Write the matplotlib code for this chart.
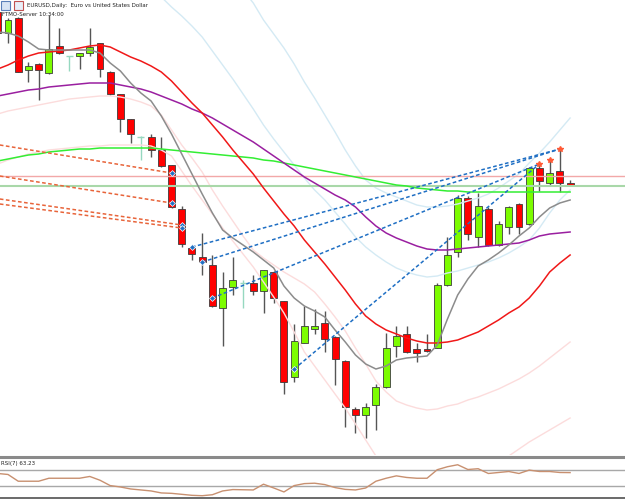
import matplotlib
matplotlib.use("Agg")
import matplotlib.pyplot as plt
import numpy as np
from matplotlib.patches import Rectangle
from matplotlib.lines import Line2D

W, H = 625, 499
X0, DX = 8.0, 10.22

# ---------------- data (chart levels; smaller = higher) -------
idx = list(range(-1, 56))
opens = [12, 33, 18, 70, 64, 73, 46, 56, 56, 53, 43, 72, 94, 119, 137, 137, 150, 165, 209, 248, 257,
         265, 308, 287, 283, 283, 291, 272, 301, 377, 343, 329, 323, 337, 361, 409, 415, 405, 387, 346,
         334, 349, 349, 348, 285, 252, 198, 237, 209, 245, 227, 204, 224, 168, 183, 171, 183]
closes = [33, 20, 72, 66, 70, 49, 53, 56, 53, 47, 69, 94, 119, 134, 137, 150, 166, 207, 244, 254, 262,
          306, 288, 280, 283, 291, 270, 298, 382, 341, 326, 326, 339, 359, 407, 415, 407, 387, 348, 336,
          352, 353, 351, 285, 255, 198, 234, 206, 245, 224, 207, 227, 168, 181, 173, 183, 186]
highs = [5, 18, 17, 62, 63, 15, 28, 56, 53, 28, 43, 71, 94, 119, 136, 134, 137, 165, 206, 247, 233,
         255, 272, 257, 280, 275, 270, 271, 301, 324, 306, 309, 311, 336, 360, 407, 403, 384, 333, 326,
         326, 343, 334, 283, 237, 195, 196, 193, 207, 221, 206, 203, 167, 164, 160, 149, 180]
lows = [36, 43, 72, 82, 100, 74, 54, 71, 69, 56, 77, 95, 132, 143, 160, 157, 167, 208, 247, 260, 275,
        307, 346, 295, 308, 295, 313, 303, 394, 382, 343, 334, 352, 385, 427, 433, 438, 430, 388, 357,
        353, 362, 352, 348, 286, 257, 240, 247, 246, 246, 234, 234, 225, 191, 185, 192, 186]

ma_fast = [32, 33, 36, 42, 49, 50, 50, 50, 50, 50, 53, 63, 71, 83, 93, 101, 116, 134, 154, 174, 194,
           213, 230, 238, 245, 252, 260, 268, 286, 298, 306, 311, 317, 330, 342, 355, 364, 369, 366, 360,
           358, 357, 356, 345, 319, 295, 279, 266, 260, 253, 245, 236, 228, 217, 208, 203, 200]
ma_mid = [69, 65, 60, 56, 53, 52, 51, 50, 48, 46, 45, 47, 52, 57, 61, 66, 72, 81, 92, 103, 113,
          125, 137, 150, 162, 174, 188, 201, 214, 226, 240, 252, 264, 277, 290, 304, 316, 324, 330, 334,
          338, 341, 343, 343, 342, 340, 336, 332, 326, 320, 313, 307, 298, 286, 272, 263, 255]
ma_slow = [96, 94, 92, 90, 89, 87, 86, 85, 84, 83, 83, 83, 85, 87, 89, 92, 96, 100, 104, 109, 113,
           118, 124, 130, 136, 142, 149, 156, 163, 170, 177, 183, 189, 195, 200, 207, 217, 226, 233, 238,
           242, 246, 249, 250, 250, 249, 248, 247, 246, 245, 244, 243, 240, 236, 234, 233, 232]
ma_long = [161, 159, 157, 155, 154, 152, 151, 150, 149, 149, 148, 148, 148, 148, 148, 148, 149, 150, 151,
           152, 153, 154, 155, 156, 157, 158, 160, 161, 163, 165, 167, 169, 171, 173, 175, 177, 179, 181,
           183, 185, 186, 188, 189, 190, 191, 191, 192, 192, 192, 192, 192, 192, 192, 192, 192, 192, 192]

band_idx = list(range(14, 56))
upper_in = [-12, -3, 7, 16, 26, 37, 51, 65, 79, 94, 109, 125, 139, 152, 165, 178, 190, 200, 212, 224,
            237, 247, 255, 262, 268, 272, 275, 277, 276, 273, 271, 268, 265, 262, 258, 253, 247, 240,
            228, 213, 200, 190]
upper_out = [None] * 9 + [-10, 3, 20, 34, 48, 64, 82, 98, 115, 132, 150, 166, 180, 188, 193, 197, 201,
                          205, 207, 207, 206, 204, 201, 198, 194, 188, 181, 174, 163, 153, 142, 130, 118]
lower_in = [114, 111, 109, 107, 105, 103, 101, 99, 98, 97, 96, 96, 97, 99, 102, 106, 115, 130, 145, 158,
            172, 190, 206, 221, 236, 250, 258, 265, 272, 278, 284, 292, 304, 317, 331, 348, 364, 381, 392,
            401, 405, 408, 410, 409, 406, 404, 400, 397, 393, 389, 384, 379, 373, 366, 358, 350, 342]
lower_out = [164, 160, 157, 154, 152, 150, 149, 148, 147, 146, 146, 145, 145, 145, 145, 146, 150, 156, 171,
             186, 200, 214, 228, 241, 254, 267, 282, 297, 313, 332, 352, 366, 380, 394, 408, 424, 440, 456,
             470, 480, 486, 490, 490, 488, 484, 478, 472, 466, 460, 458, 456, 449, 442, 436, 430, 424, 418]

rsi = [61, 58.5, 41.5, 41.5, 41.5, 49, 49, 49, 49, 53.5, 44, 30.5, 27, 22, 19.5, 17, 12, 11, 8.5, 6, 5,
       7.5, 17, 20.5, 20, 19.5, 34, 24.5, 14.5, 30.5, 35.5, 36.5, 33, 25.5, 21, 19.5, 24.5, 41.5, 49, 55,
       51, 49, 49, 70.5, 78, 83, 71, 73, 61, 63.5, 66, 61, 69.5, 66, 66, 63.5, 63.23]
rsi_levels = [70, 30]

h_red_level = 176
h_green_level = 186

orange_lines = [((-0.8, 145), (16, 173)), ((-0.8, 176), (16, 203)),
                ((-0.8, 199), (17, 225)), ((-0.8, 204), (17, 228))]
blue_lines = [((18, 247), (54, 149)), ((19, 262), (54, 149)),
              ((20, 298), (52, 164)), ((28, 369), (52, 164))]
fractal_idx = [52, 53, 54]
fractal_lvl = [164, 160, 149]

title = "EURUSD,Daily:  Euro vs United States Dollar"
server = "FTMO-Server 10:34:00"
rsi_label = "RSI(7) 63.23"

# ---------------- figure -------------------------------------------------------------
fig = plt.figure(figsize=(W / 100, H / 100), dpi=100)
fig.patch.set_facecolor("white")
xlim = ((0 - X0) / DX, (W - X0) / DX)

ax = fig.add_axes([0, 1 - 455 / H, 1, 455 / H])
ax.set_xlim(*xlim)
ax.set_ylim(455, 0)
ax.axis("off")

GREEN = "#7CFC00"
RED = "#FF0000"
DOJI = "#96d8c0"
EDGE = "#3c3c3c"
BW = 0.68

for i, o, c, hi, lo in zip(idx, opens, closes, highs, lows):
    if o == c:
        ax.vlines(i, hi, lo, color=DOJI, lw=1.0, zorder=2)
        ax.hlines(o, i - BW / 2, i + BW / 2, color=DOJI, lw=1.0, zorder=2)
        continue
    col = GREEN if c < o else RED
    ax.vlines(i, hi, lo, color="#555555", lw=1.0, zorder=1)
    top, bot = min(o, c), max(o, c)
    hgt = max(bot - top, 1.5)
    ax.add_patch(Rectangle((i - BW / 2, top), BW, hgt, facecolor=col, edgecolor=EDGE,
                           lw=0.6, zorder=2))

bi = np.array(band_idx)
ax.plot(bi, upper_in, color="#d4eaf4", lw=1.0, zorder=3)
uo = np.array([np.nan if v is None else v for v in upper_out], dtype=float)
ax.plot(bi, uo, color="#d4eaf4", lw=1.0, zorder=3)
ax.plot(idx, lower_in, color="#fcdcdc", lw=1.0, zorder=3)
ax.plot(idx, lower_out, color="#fcdcdc", lw=1.0, zorder=3)

ax.axhline(h_red_level, color="#f2a8a8", lw=1.0, zorder=3)
ax.axhline(h_green_level, color="#a9d8a9", lw=1.5, zorder=3)

ax.plot(idx, ma_long, color="#33ee33", lw=1.1, zorder=4)
ax.plot(idx, ma_slow, color="#9a1fa0", lw=1.1, zorder=4)
ax.plot(idx, ma_mid, color="#f01818", lw=1.1, zorder=4)
ax.plot(idx, ma_fast, color="#8c8c8c", lw=1.1, zorder=4)

DASH = (0, (2.4, 1.6))
for (a, b) in orange_lines:
    ax.plot([a[0], b[0]], [a[1], b[1]], color="#e8643a", lw=1.1, ls=DASH, zorder=5)
    ax.plot(b[0], b[1], marker="D", ms=3.0, mfc="#1f6fc4", mec="white", mew=0.5, zorder=6)
for (a, b) in blue_lines:
    ax.plot([a[0], b[0]], [a[1], b[1]], color="#1f6fc4", lw=1.1, ls=DASH, zorder=5)
    ax.plot(a[0], a[1], marker="D", ms=3.0, mfc="#1f6fc4", mec="white", mew=0.5, zorder=6)
ax.plot(fractal_idx, fractal_lvl, ls="none", marker="*", ms=4.0, color="#ff5a36", zorder=6)

# header icons and text
fig.patches.append(Rectangle((1 / W, 1 - 10 / H), 9 / W, 9 / H, transform=fig.transFigure,
                             facecolor="#d8e4f4", edgecolor="#5a7fb8", lw=0.8))
fig.patches.append(Rectangle((14 / W, 1 - 10 / H), 9 / W, 9 / H, transform=fig.transFigure,
                             facecolor="#e8eef8", edgecolor="#c05050", lw=0.8))
fig.text(27 / W, 1 - 6 / H, title, fontsize=4.0, color="#222222", va="center", ha="left",
         family="DejaVu Sans")
fig.text(2 / W, 1 - 15 / H, server, fontsize=4.0, color="#222222", va="center", ha="left",
         family="DejaVu Sans")

# separator
fig.add_artist(Line2D([0, 1], [1 - 456.5 / H] * 2, transform=fig.transFigure, color="#8a8a8a", lw=2.2))

# RSI panel
ax2 = fig.add_axes([0, 1 - 497.7 / H, 1, (497.7 - 458.0) / H])
ax2.set_xlim(*xlim)
ax2.set_ylim(0, 100)
ax2.axis("off")
for lv in rsi_levels:
    ax2.axhline(lv, color="#a8a8a8", lw=1.0)
ax2.plot(idx, rsi, color="#c89070", lw=1.0)
fig.add_artist(Line2D([0, 1], [1 - 497.8 / H] * 2, transform=fig.transFigure, color="#505050", lw=1.2))
fig.text(1 / W, 1 - 463 / H, rsi_label, fontsize=4.0, color="#222222", va="center", ha="left")

fig.savefig("out.png", dpi=100, facecolor="white")
